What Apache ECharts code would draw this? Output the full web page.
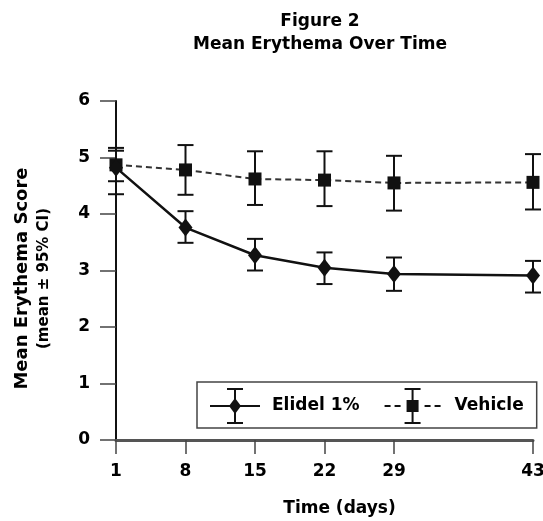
<!DOCTYPE html>
<html>
<head>
<meta charset="utf-8">
<script src="https://cdn.jsdelivr.net/npm/echarts@6/dist/echarts.min.js"></script>
<style>
  html, body { margin: 0; padding: 0; background: #fff; }
  #chart { width: 543px; height: 521px; }
</style>
</head>
<body>
<div id="chart"></div>
<script>
// ---- Data ----
const days = [1, 8, 15, 22, 29, 43];
const xTickLabels = [1, 8, 15, 22, 29, 43];
const elidelMean = [4.82, 3.76, 3.27, 3.05, 2.94, 2.91];
const elidelLow  = [4.35, 3.49, 3.00, 2.76, 2.64, 2.61];
const elidelHigh = [5.17, 4.05, 3.56, 3.32, 3.23, 3.17];
const vehicleMean = [4.87, 4.78, 4.62, 4.60, 4.55, 4.56];
const vehicleLow  = [4.58, 4.34, 4.16, 4.14, 4.06, 4.08];
const vehicleHigh = [5.12, 5.22, 5.11, 5.11, 5.03, 5.06];
const seriesNames = ['Elidel 1%', 'Vehicle'];

const FONT = '"DejaVu Sans", sans-serif';
const INK = '#111';

function pairs(xs, ys) { return xs.map((x, i) => [x, ys[i]]); }
function triples(xs, lo, hi) { return xs.map((x, i) => [x, lo[i], hi[i]]); }

function errorBarRender(params, api) {
  const x = api.value(0);
  const lo = api.coord([x, api.value(1)]);
  const hi = api.coord([x, api.value(2)]);
  const hw = 8;
  const style = { stroke: INK, lineWidth: 2 };
  return {
    type: 'group',
    children: [
      { type: 'line', shape: { x1: lo[0], y1: lo[1], x2: hi[0], y2: hi[1] }, style: style },
      { type: 'line', shape: { x1: lo[0] - hw, y1: lo[1], x2: lo[0] + hw, y2: lo[1] }, style: style },
      { type: 'line', shape: { x1: hi[0] - hw, y1: hi[1], x2: hi[0] + hw, y2: hi[1] }, style: style }
    ]
  };
}

const elidelIcon = 'path://M0 17H50V19H0Z M24 2H26V34H24Z M17 0H33V2H17Z M17 34H33V36H17Z M25 10L31 18L25 26L19 18Z M57 18';
const vehicleIcon = 'path://M0 17H6V19H0Z M10 17H16V19H10Z M40 17H46V19H40Z M50 17H56V19H50Z M27 2H29V34H27Z M20 0H36V2H20Z M20 34H36V36H20Z M22 12H34V24H22Z M57 18';

const chart = echarts.init(document.getElementById('chart'), null, { renderer: 'canvas' });
chart.setOption({
  animation: false,
  backgroundColor: '#fff',
  title: {
    text: 'Figure 2\nMean Erythema Over Time',
    left: 320,
    textAlign: 'center',
    top: 10,
    padding: 0,
    textStyle: { fontFamily: FONT, fontWeight: 'bold', fontSize: 17, lineHeight: 23, color: '#000' }
  },
  legend: {
    data: [
      { name: seriesNames[0], icon: elidelIcon },
      { name: seriesNames[1], icon: vehicleIcon, textStyle: { padding: [0, 0, 0, 8] } }
    ],
    left: 197,
    top: 382,
    orient: 'horizontal',
    itemWidth: 57,
    itemHeight: 36,
    itemGap: 25,
    padding: [6, 13, 4, 13],
    borderColor: '#444',
    borderWidth: 1.5,
    borderRadius: 0,
    symbolKeepAspect: true,
    selectedMode: false,
    itemStyle: { borderWidth: 0 },
    textStyle: { fontFamily: FONT, fontWeight: 'bold', fontSize: 17, color: '#000' }
  },
  grid: {
    left: 116, right: 10, top: 101, bottom: 81,
    containLabel: false,
    outerBoundsMode: 'none'
  },
  xAxis: {
    type: 'value',
    min: 1,
    max: 43,
    name: 'Time (days)',
    nameLocation: 'middle',
    nameGap: 60,
    nameTextStyle: { fontFamily: FONT, fontWeight: 'bold', fontSize: 17, color: '#000', padding: [0, 0, 0, 30] },
    axisLine: { show: true, onZero: false, lineStyle: { color: '#555', width: 3 } },
    axisTick: { show: true, length: 14, customValues: xTickLabels, lineStyle: { color: '#444', width: 1.5 } },
    axisLabel: { customValues: xTickLabels, margin: 23, fontFamily: FONT, fontWeight: 'bold', fontSize: 17, color: '#000' },
    splitLine: { show: false }
  },
  yAxis: {
    type: 'value',
    min: 0,
    max: 6,
    interval: 1,
    name: '{a|Mean Erythema Score}\n{b|(mean ± 95% CI)}',
    nameLocation: 'middle',
    nameGap: 61,
    nameTextStyle: {
      color: '#000',
      padding: [0, 16, 0, 0],
      rich: {
        a: { fontFamily: FONT, fontWeight: 'bold', fontSize: 18, lineHeight: 22, color: '#000' },
        b: { fontFamily: FONT, fontWeight: 'bold', fontSize: 15, lineHeight: 22, color: '#000' }
      }
    },
    axisLine: { show: true, lineStyle: { color: INK, width: 2 } },
    axisTick: { show: true, length: 16, lineStyle: { color: '#444', width: 1.5 } },
    axisLabel: { margin: 26, fontFamily: FONT, fontWeight: 'bold', fontSize: 17, color: '#000' },
    splitLine: { show: false }
  },
  series: [
    {
      name: 'Elidel CI', type: 'custom', renderItem: errorBarRender,
      data: triples(days, elidelLow, elidelHigh), z: 2, silent: true,
      encode: { x: 0, y: [1, 2] }
    },
    {
      name: 'Vehicle CI', type: 'custom', renderItem: errorBarRender,
      data: triples(days, vehicleLow, vehicleHigh), z: 2, silent: true,
      encode: { x: 0, y: [1, 2] }
    },
    {
      name: seriesNames[1], type: 'line', data: pairs(days, vehicleMean), z: 3,
      symbol: 'rect', symbolSize: 13,
      color: INK,
      itemStyle: { color: INK, borderWidth: 0 },
      lineStyle: { color: '#333', width: 2, type: [6, 4] }
    },
    {
      name: seriesNames[0], type: 'line', data: pairs(days, elidelMean), z: 4,
      symbol: 'diamond', symbolSize: [14, 18],
      color: INK,
      itemStyle: { color: INK, borderWidth: 0 },
      lineStyle: { color: INK, width: 2.5 }
    }
  ]
});
</script>
</body>
</html>
